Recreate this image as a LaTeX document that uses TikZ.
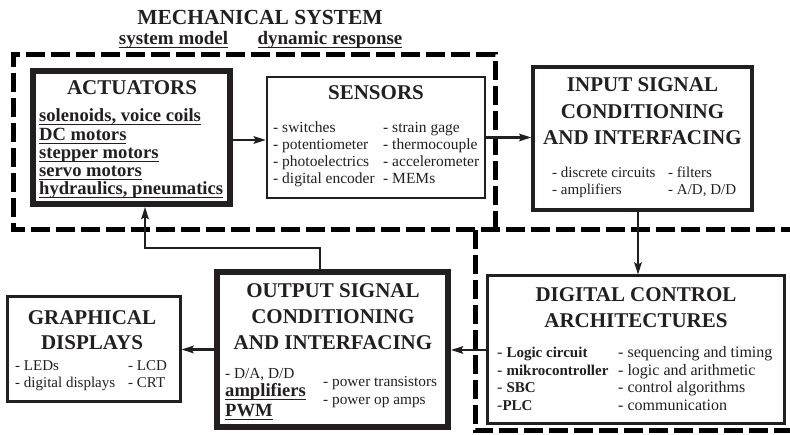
\documentclass[tikz,border=0pt]{standalone}
\usepackage{fontspec}
\setmainfont{Liberation Serif}
\usetikzlibrary{arrows.meta}
\definecolor{ink}{HTML}{231F20}
\newcommand\myul[1]{\setbox0\hbox{#1}\rlap{\rule[-3pt]{\wd0}{0.9pt}}\box0}
\begin{document}
\begin{tikzpicture}[x=1pt,y=-1pt,
  box/.style={draw=ink, inner sep=0pt},
  ttl/.style={font=\fontsize{21}{21}\selectfont\bfseries, anchor=base, inner sep=0pt, text=ink},
  sub/.style={font=\fontsize{19}{19}\selectfont\bfseries, anchor=base, inner sep=0pt, text=ink},
  itm/.style={font=\fontsize{15.5}{15.5}\selectfont, anchor=base west, inner sep=0pt, text=ink},
  ditm/.style={font=\fontsize{16}{16}\selectfont, anchor=base west, inner sep=0pt, text=ink},
  bitm/.style={font=\fontsize{18.6}{18.6}\selectfont\bfseries, anchor=base west, inner sep=0pt, text=ink},
  dsh/.style={line width=5pt, dash pattern=on 19pt off 6pt, black},
  arr/.style={draw=ink, line width=2.5pt, -{Stealth[length=12pt,width=7.5pt,inset=2pt]}}
]
\useasboundingbox (0,0) rectangle (790,435);

% dashed regions
\draw[dsh] (495,230) -- (495,55) -- (13,55) -- (13,230) -- (795,230);
\draw[dsh] (475,230) -- (475,431) -- (795,431);

% title
\node[ttl, font=\fontsize{21.5}{21.5}\selectfont\bfseries] (mech) at (260,25) {MECHANICAL SYSTEM};
\node[sub] (smodel) at (173.5,45) {\myul{system model}};
\node[sub] (dresp) at (330,45) {\myul{dynamic response}};

% boxes
\node[box, line width=6pt, minimum width=197pt, minimum height=133pt] (act) at (131.5,137.5) {};
\node[box, line width=2.5pt, minimum width=218pt, minimum height=121pt] (sen) at (376,137.5) {};
\node[box, line width=3.5pt, minimum width=219pt, minimum height=143pt] (inp) at (642.5,138.5) {};
\node[box, line width=3pt, minimum width=297pt, minimum height=148pt] (dig) at (635.5,350) {};
\node[box, line width=6pt, minimum width=231pt, minimum height=155pt] (out) at (332.5,349.5) {};
\node[box, line width=3pt, minimum width=173pt, minimum height=105pt] (gra) at (93.5,349.5) {};

% actuators text
\node[ttl] (act-t) at (132,95) {ACTUATORS};
\node[bitm] (act-1) at (39,122) {\myul{solenoids, voice coils}};
\node[bitm] (act-2) at (39,140.5) {\myul{DC motors}};
\node[bitm] (act-3) at (39,158.5) {\myul{stepper motors}};
\node[bitm] (act-4) at (39,176.5) {\myul{servo motors}};
\node[bitm] (act-5) at (39,195) {\myul{hydraulics, pneumatics}};

% sensors text
\node[ttl] (sen-t) at (376,100) {SENSORS};
\node[itm] (sen-1) at (273,133) {- switches};
\node[itm] (sen-2) at (273,150) {- potentiometer};
\node[itm] (sen-3) at (273,167) {- photoelectrics};
\node[itm] (sen-4) at (273,184) {- digital encoder};
\node[itm] (sen-5) at (383,133) {- strain gage};
\node[itm] (sen-6) at (383,150) {- thermocouple};
\node[itm] (sen-7) at (383,167) {- accelerometer};
\node[itm] (sen-8) at (383,184) {- MEMs};

% input text
\node[ttl] (inp-t1) at (642.5,92) {INPUT SIGNAL};
\node[ttl] (inp-t2) at (642.5,118.5) {CONDITIONING};
\node[ttl] (inp-t3) at (642.5,145) {AND INTERFACING};
\node[itm, font=\fontsize{15}{15}\selectfont] (inp-1) at (552,178) {- discrete circuits};
\node[itm, font=\fontsize{15}{15}\selectfont] (inp-2) at (552,195) {- amplifiers};
\node[itm, font=\fontsize{15}{15}\selectfont] (inp-3) at (668,178) {- filters};
\node[itm, font=\fontsize{15}{15}\selectfont] (inp-4) at (668,195) {- A/D, D/D};

% digital text
\node[ttl] (dig-t1) at (636,302) {DIGITAL CONTROL};
\node[ttl] (dig-t2) at (636,328) {ARCHITECTURES};
\node[ditm] (dig-1) at (497,358) {- \fontsize{15}{15}\selectfont\bfseries Logic circuit};
\node[ditm] (dig-2) at (497,376) {- \fontsize{15}{15}\selectfont\bfseries mikrocontroller};
\node[ditm] (dig-3) at (497,392.5) {- \fontsize{15}{15}\selectfont\bfseries SBC};
\node[ditm] (dig-4) at (497,410) {-\fontsize{15}{15}\selectfont\bfseries PLC};
\node[ditm] (dig-5) at (618,358) {- sequencing and timing};
\node[ditm] (dig-6) at (618,376) {- logic and arithmetic};
\node[ditm] (dig-7) at (618,392.5) {- control algorithms};
\node[ditm] (dig-8) at (618,410) {- communication};

% output text
\node[ttl] (out-t1) at (333,298) {OUTPUT SIGNAL};
\node[ttl] (out-t2) at (333,323.5) {CONDITIONING};
\node[ttl] (out-t3) at (333,350) {AND INTERFACING};
\node[itm, font=\fontsize{15.3}{15.3}\selectfont] (out-1) at (225,379) {- D/A, D/D};
\node[bitm] (out-2) at (225,397) {\myul{amplifiers}};
\node[bitm] (out-3) at (225,417) {\myul{PWM}};
\node[itm, font=\fontsize{15.3}{15.3}\selectfont] (out-4) at (323,387) {- power transistors};
\node[itm, font=\fontsize{15.3}{15.3}\selectfont] (out-5) at (323,405) {- power op amps};

% graphical text
\node[ttl] (gra-t1) at (92,325) {GRAPHICAL};
\node[ttl] (gra-t2) at (92,350) {DISPLAYS};
\node[itm, font=\fontsize{15}{15}\selectfont] (gra-1) at (15,371) {- LEDs};
\node[itm, font=\fontsize{15}{15}\selectfont] (gra-2) at (15,388) {- digital displays};
\node[itm, font=\fontsize{15}{15}\selectfont] (gra-3) at (128,371) {- LCD};
\node[itm, font=\fontsize{15}{15}\selectfont] (gra-4) at (128,388) {- CRT};

% connectors
\coordinate (c1) at (638,0);
\coordinate (c2) at (320,248);
\coordinate (c3) at (145,248);
\draw[arr] ([yshift=-2.5pt]act.east) -- ([yshift=-2.5pt]sen.west);
\draw[arr] (sen.east) -- (sen.east -| inp.west);
\draw[arr] (c1 |- inp.south) -- (c1 |- dig.north);
\draw[arr] (dig.west) -- (dig.west -| out.east);
\draw[arr] (out.west) -- (out.west -| gra.east);
\draw[arr] (c2 |- out.north) -- (c2) -- (c3) -- (c3 |- act.south);
\end{tikzpicture}
\end{document}
